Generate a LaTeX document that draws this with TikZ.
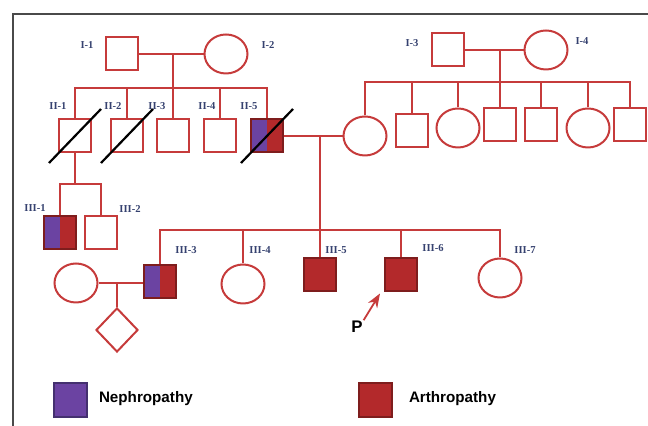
\documentclass[tikz,border=0pt]{standalone}
\usepackage{fontspec}
\usetikzlibrary{arrows.meta,shapes.geometric}
\newfontfamily\lgfont{Liberation Sans}
\newfontfamily\idfont{Liberation Serif}
\definecolor{pedred}{HTML}{C63B3B}
\definecolor{affred}{HTML}{B3292B}
\definecolor{darkred}{HTML}{7E1D1D}
\definecolor{affpurple}{HTML}{6B43A2}
\definecolor{darkpurple}{HTML}{44306F}
\definecolor{idnavy}{HTML}{35416F}
\definecolor{framegray}{HTML}{4A4A4A}

\begin{document}
\begin{tikzpicture}[x=.5pt,y=-.5pt,>=Stealth,line width=1pt,
 male/.style={draw=pedred,rectangle,minimum width=16pt,minimum height=16.5pt,inner sep=0},
 female/.style={draw=pedred,ellipse,minimum width=21.5pt,minimum height=19.5pt,inner sep=0},
 unknown/.style={draw=pedred,diamond,minimum width=21pt,minimum height=22pt,inner sep=0},
 arth/.style={male,draw=darkred,fill=affred},
 both/.style={male,draw=darkred,path picture={
   \fill[affpurple] (path picture bounding box.south west) rectangle (path picture bounding box.north);
   \fill[affred] (path picture bounding box.north) rectangle (path picture bounding box.south east);}},
 idlbl/.style={font=\idfont\bfseries\fontsize{5.3}{6}\selectfont,text=idnavy,inner sep=0},
 lglbl/.style={font=\lgfont\bfseries\fontsize{7.6}{9}\selectfont,anchor=base west,inner sep=0},
 deceased/.style={draw=black,line width=1.1pt},
 ped/.style={draw=pedred}]
\useasboundingbox (0,0) rectangle (648,426);
\draw[framegray,line width=.6pt] (13,426)--(13,14)--(648,14);
% generation I
\node[male] (I1) at (122,54){};
\node[female] (I2) at (226,54){};
\node[male] (I3) at (448,50){};
\node[female] (I4) at (546,50){};
% generation II
\node[male] (II1) at (75,136){};
\node[male] (II2) at (127,136){};
\node[male] (II3) at (173,136){};
\node[male] (II4) at (220,136){};
\node[both] (II5) at (267,136){};
\node[female] (W5) at (365,136){};
\node[male] (sib2) at (412,131){};
\node[female] (sib3) at (458,128){};
\node[male] (sib4) at (500,125){};
\node[male] (sib5) at (541,125){};
\node[female] (sib6) at (588,128){};
\node[male] (sib7) at (630,125){};
% generation III
\node[both] (III1) at (60,233){};
\node[male] (III2) at (101,233){};
\node[female] (W3) at (76,283){};
\node[both] (III3) at (160,282){};
\node[unknown] (IV1) at (117,330){};
\node[female] (III4) at (243,284){};
\node[arth] (III5) at (320,275){};
\node[arth] (III6) at (401,275){};
\node[female] (III7) at (500,278){};
\coordinate (m1) at (173,54);\coordinate (s1) at (173,88);
\coordinate (m2) at (500,50);\coordinate (s2) at (500,82);
\coordinate (m5) at (320,136);\coordinate (s3) at (320,230);
\coordinate (s4) at (75,184);\coordinate (m3) at (117,283);
\draw[ped] (I1)--(I2);\draw[ped] (m1)--(II3.north);
\draw[ped] (II1.north) |- (s1) -| (II5.north);
\foreach \n in {II2,II4}{\draw[ped] (\n.north)--(\n.north |- s1);}
\draw[ped] (I3)--(I4);\draw[ped] (m2)--(sib4.north);
\draw[ped] (W5.north) |- (s2) -| (sib7.north);
\foreach \n in {sib2,sib3,sib5,sib6}{\draw[ped] (\n.north)--(\n.north |- s2);}
\draw[ped] (II5)--(W5);\draw[ped] (m5)--(III5.north);
\draw[ped] (III3.north) |- (s3) -| (III7.north);
\foreach \n in {III4,III6}{\draw[ped] (\n.north)--(\n.north |- s3);}
\draw[ped] (II1.south)--(s4);
\draw[ped] (III1.north) |- (s4) -| (III2.north);
\draw[ped] (W3)--(W3 -| III3.west);\draw[ped] (m3)--(IV1.north);
\foreach \n in {II1,II2,II5}{
 \draw[deceased] ([shift={(-26,27)}]\n.center)--([shift={(26,-27)}]\n.center);
}
\foreach \n/\t/\x/\y in {a/I-1/87/45,b/I-2/268/45,c/I-3/412/43,d/I-4/582/41,
 e/II-1/58/106,f/II-2/113/106,g/II-3/157/106,h/II-4/207/106,i/II-5/249/106,
 j/III-1/35/208,k/III-2/130/209,l/III-3/186/250,m/III-4/260/250,
 n/III-5/336/250,o/III-6/433/248,p/III-7/525/250}{
 \node[idlbl] (id\n) at (\x,\y){\t};
}
\node[font=\lgfont\bfseries\fontsize{8.4}{10}\selectfont,inner sep=0] (P) at (357,327){P};
\draw[->,pedred,line width=.9pt] (P.north east)--([shift={(-4,1)}]III6.south west);
% legend
\node[male,minimum width=16.5pt,minimum height=17pt,draw=darkpurple,fill=affpurple] (keyN) at (70,400){};
\node[lglbl] (keyNtext) at (98,403){Nephropathy};
\node[arth,minimum width=16.5pt,minimum height=17pt] (keyA) at (375,400){};
\node[lglbl] (keyAtext) at (408,403){Arthropathy};
\end{tikzpicture}
\end{document}
